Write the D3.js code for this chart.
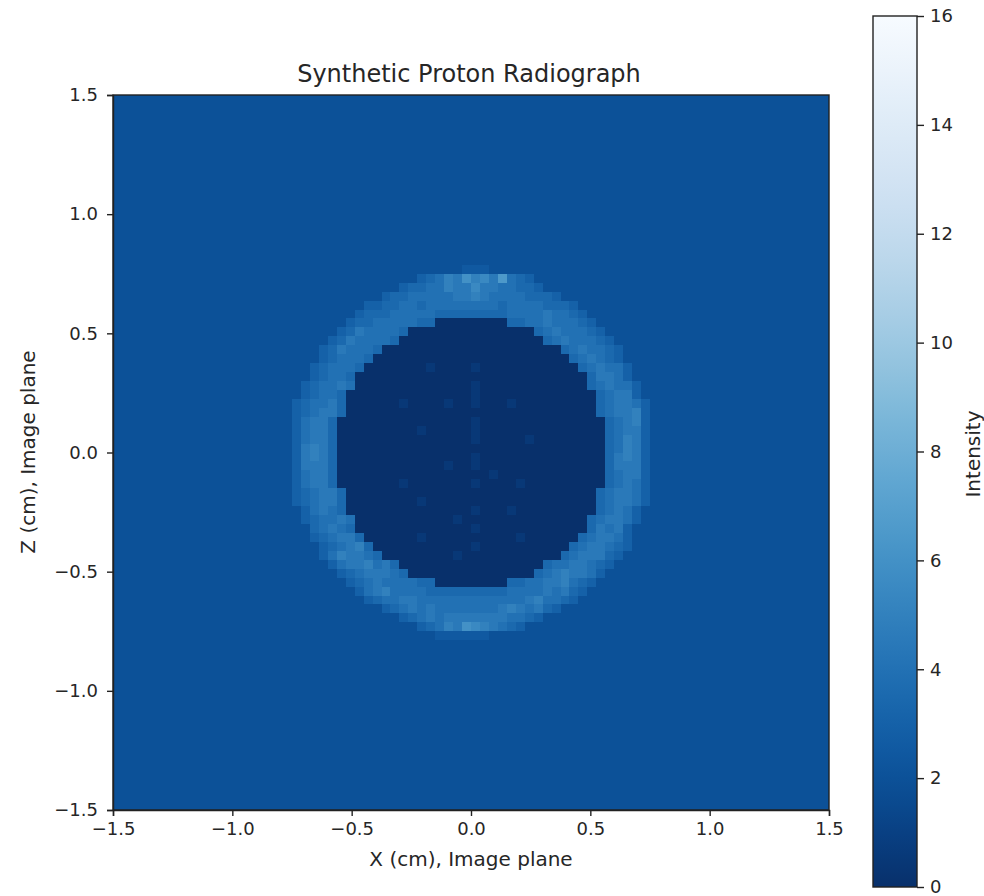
<!DOCTYPE html>
<html>

<head>
  <meta charset="utf-8">
  <style>
    body {
      margin: 0;
      background: #fff;
    }

    svg text {
      font-family: "DejaVu Sans", sans-serif;
      fill: #262626;
    }

    .tick text {
      font-size: 18px;
    }

    .tick line,
    .domain {
      stroke: #222;
      stroke-width: 1.4px;
    }
  </style>
</head>

<body>
  <div id="chart"></div>
  <script src="https://d3js.org/d3.v7.min.js"></script>
  <script>
    var xTicks = [-1.5, -1.0, -0.5, 0.0, 0.5, 1.0, 1.5];
    var zTicks = [-1.5, -1.0, -0.5, 0.0, 0.5, 1.0, 1.5];
    var barTicks = [0, 2, 4, 6, 8, 10, 12, 14, 16];

    // estimated mean intensity on a coarse 80x80 grid, top row first.
    // one base-36 character per cell, in half units of intensity
    var intensityRows = [
      "4444444444 4444444444 4444444444 4444444444 4444444444 4444444444 4444444444 4444444444",
      "4444444444 4444444444 4444444444 4444444444 4444444444 4444444444 4444444444 4444444444",
      "4444444444 4444444444 4444444444 4444444444 4444444444 4444444444 4444444444 4444444444",
      "4444444444 4444444444 4444444444 4444444444 4444444444 4444444444 4444444444 4444444444",
      "4444444444 4444444444 4444444444 4444444444 4444444444 4444444444 4444444444 4444444444",
      "4444444444 4444444444 4444444444 4444444444 4444444444 4444444444 4444444444 4444444444",
      "4444444444 4444444444 4444444444 4444444444 4444444444 4444444444 4444444444 4444444444",
      "4444444444 4444444444 4444444444 4444444444 4444444444 4444444444 4444444444 4444444444",
      "4444444444 4444444444 4444444444 4444444444 4444444444 4444444444 4444444444 4444444444",
      "4444444444 4444444444 4444444444 4444444444 4444444444 4444444444 4444444444 4444444444",
      "4444444444 4444444444 4444444444 4444444444 4444444444 4444444444 4444444444 4444444444",
      "4444444444 4444444444 4444444444 4444444444 4444444444 4444444444 4444444444 4444444444",
      "4444444444 4444444444 4444444444 4444444444 4444444444 4444444444 4444444444 4444444444",
      "4444444444 4444444444 4444444444 4444444444 4444444444 4444444444 4444444444 4444444444",
      "4444444444 4444444444 4444444444 4444444444 4444444444 4444444444 4444444444 4444444444",
      "4444444444 4444444444 4444444444 4444444444 4444444444 4444444444 4444444444 4444444444",
      "4444444444 4444444444 4444444444 4444444444 4444444444 4444444444 4444444444 4444444444",
      "4444444444 4444444444 4444444444 4444444444 4444444444 4444444444 4444444444 4444444444",
      "4444444444 4444444444 4444444444 4444444444 4444444444 4444444444 4444444444 4444444444",
      "4444444444 4444444444 4444444444 4444444445 5544444444 4444444444 4444444444 4444444444",
      "4444444444 4444444444 4444444444 4444678a9c ab9d876444 4444444444 4444444444 4444444444",
      "4444444444 4444444444 4444444444 4467788a99 b998877644 4444444444 4444444444 4444444444",
      "4444444444 4444444444 4444444444 6778888899 a988887776 4444444444 4444444444 4444444444",
      "4444444444 4444444444 4444444466 7788788888 8887888877 7644444444 4444444444 4444444444",
      "4444444444 4444444444 4444444677 7888887777 7777888898 8764444444 4444444444 4444444444",
      "4444444444 4444444444 4444446778 8888770000 0000778898 8876444444 4444444444 4444444444",
      "4444444444 4444444444 4444467988 8870000000 0000000789 8887644444 4444444444 4444444444",
      "4444444444 4444444444 4444679888 8700000000 0000000078 9888764444 4444444444 4444444444",
      "4444444444 4444444444 4446798887 0000000000 0000000000 7898876444 4444444444 4444444444",
      "4444444444 4444444444 4446788870 0000000000 0000000000 0789876444 4444444444 4444444444",
      "4444444444 4444444444 4467888700 0000010000 1000000000 0078988644 4444444444 4444444444",
      "4444444444 4444444444 4467887000 0000000000 0000000000 0007998644 4444444444 4444444444",
      "4444444444 4444444444 4678898000 0000000000 1000000000 0007898864 4444444444 4444444444",
      "4444444444 4444444444 4678870000 0000000000 1000000000 0000789964 4444444444 4444444444",
      "4444444444 4444444444 6788970000 0010000100 1000100000 0000789986 4444444444 4444444444",
      "4444444444 4444444444 6789970000 0000000000 0000000000 00007899a6 4444444444 4444444444",
      "4444444444 4444444444 6899700000 0000000000 1000000000 00000789a6 4444444444 4444444444",
      "4444444444 4444444444 6899700000 0000100000 1000000000 0000078996 4444444444 4444444444",
      "4444444444 4444444444 6899700000 0000000000 1000001000 0000078a96 4444444444 4444444444",
      "4444444444 4444444444 69a9700000 0000000000 0000000000 0000078a96 4444444444 4444444444",
      "4444444444 4444444444 69a9700000 0000000000 1000000000 0000079a96 4444444444 4444444444",
      "4444444444 4444444444 6999700000 0000000100 1000000000 0000079996 4444444444 4444444444",
      "4444444444 4444444444 6899700000 0000000000 0010000000 0000078996 4444444444 4444444444",
      "4444444444 4444444444 6899700000 0010000000 1000010000 0000078986 4444444444 4444444444",
      "4444444444 4444444444 6789970000 0000000000 0000000000 0000789986 4444444444 4444444444",
      "4444444444 4444444444 6789970000 0000100000 0000000000 0000789986 4444444444 4444444444",
      "4444444444 4444444444 4689870000 0000000000 1000100000 0000789864 4444444444 4444444444",
      "4444444444 4444444444 4678898000 0000000010 0000000000 0007899864 4444444444 4444444444",
      "4444444444 4444444444 4478987000 0000000000 1000000000 0007989644 4444444444 4444444444",
      "4444444444 4444444444 4467899700 0000100000 0000010000 0078998644 4444444444 4444444444",
      "4444444444 4444444444 4446789a70 0000000000 1000000000 0789987644 4444444444 4444444444",
      "4444444444 4444444444 44468a9987 0000000010 0000000000 7899976444 4444444444 4444444444",
      "4444444444 4444444444 44446899a8 9700000000 0000000078 8998764444 4444444444 4444444444",
      "4444444444 4444444444 4444467899 9870000000 0000000789 a998644444 4444444444 4444444444",
      "4444444444 4444444444 4444446789 8888770000 0000778899 a876444444 4444444444 4444444444",
      "4444444444 4444444444 4444444689 a888877777 7777888898 9764444444 4444444444 4444444444",
      "4444444444 4444444444 4444444467 8899888888 8888889a88 7644444444 4444444444 4444444444",
      "4444444444 4444444444 4444444444 6789898888 8889a98976 4444444444 4444444444 4444444444",
      "4444444444 4444444444 4444444444 4467898999 9999887644 4444444444 4444444444 4444444444",
      "4444444444 4444444444 4444444444 4444678a9c ba98764444 4444444444 4444444444 4444444444",
      "4444444444 4444444444 4444444444 4444445555 5544444444 4444444444 4444444444 4444444444",
      "4444444444 4444444444 4444444444 4444444444 4444444444 4444444444 4444444444 4444444444",
      "4444444444 4444444444 4444444444 4444444444 4444444444 4444444444 4444444444 4444444444",
      "4444444444 4444444444 4444444444 4444444444 4444444444 4444444444 4444444444 4444444444",
      "4444444444 4444444444 4444444444 4444444444 4444444444 4444444444 4444444444 4444444444",
      "4444444444 4444444444 4444444444 4444444444 4444444444 4444444444 4444444444 4444444444",
      "4444444444 4444444444 4444444444 4444444444 4444444444 4444444444 4444444444 4444444444",
      "4444444444 4444444444 4444444444 4444444444 4444444444 4444444444 4444444444 4444444444",
      "4444444444 4444444444 4444444444 4444444444 4444444444 4444444444 4444444444 4444444444",
      "4444444444 4444444444 4444444444 4444444444 4444444444 4444444444 4444444444 4444444444",
      "4444444444 4444444444 4444444444 4444444444 4444444444 4444444444 4444444444 4444444444",
      "4444444444 4444444444 4444444444 4444444444 4444444444 4444444444 4444444444 4444444444",
      "4444444444 4444444444 4444444444 4444444444 4444444444 4444444444 4444444444 4444444444",
      "4444444444 4444444444 4444444444 4444444444 4444444444 4444444444 4444444444 4444444444",
      "4444444444 4444444444 4444444444 4444444444 4444444444 4444444444 4444444444 4444444444",
      "4444444444 4444444444 4444444444 4444444444 4444444444 4444444444 4444444444 4444444444",
      "4444444444 4444444444 4444444444 4444444444 4444444444 4444444444 4444444444 4444444444",
      "4444444444 4444444444 4444444444 4444444444 4444444444 4444444444 4444444444 4444444444",
      "4444444444 4444444444 4444444444 4444444444 4444444444 4444444444 4444444444 4444444444",
      "4444444444 4444444444 4444444444 4444444444 4444444444 4444444444 4444444444 4444444444"
    ].map(function(row) { return row.replace(/ /g, ""); });

    var width = 984,
      height = 896;
    var plot = { left: 113, right: 829, top: 95, bottom: 810 };
    var bar = { left: 873, right: 917, top: 16, bottom: 887 };

    var svg = d3.select("#chart").append("svg")
      .attr("width", width)
      .attr("height", height)
      .style("display", "block");

    var x = d3.scaleLinear().domain([-1.5, 1.5]).range([plot.left, plot.right]);
    var z = d3.scaleLinear().domain([-1.5, 1.5]).range([plot.bottom, plot.top]);
    var cols = d3.scaleBand().domain(d3.range(80)).range([plot.left, plot.right]);
    var rows = d3.scaleBand().domain(d3.range(80)).range([plot.top, plot.bottom]);
    var color = d3.scaleSequential(function(t) { return d3.interpolateBlues(1 - t); })
      .domain([0, 16]);

    var cells = [];
    intensityRows.forEach(function(row, i) {
      row.split("").forEach(function(c, j) {
        cells.push({ i: i, j: j, value: parseInt(c, 36) / 2 });
      });
    });

    svg.append("g")
      .attr("shape-rendering", "crispEdges")
      .selectAll("rect")
      .data(cells)
      .enter().append("rect")
      .attr("x", function(d) { return cols(d.j); })
      .attr("y", function(d) { return rows(d.i); })
      .attr("width", cols.bandwidth())
      .attr("height", rows.bandwidth())
      .attr("fill", function(d) { return color(d.value); });

    var fmt = d3.format(".1f");

    svg.append("g")
      .attr("transform", "translate(0," + plot.bottom + ")")
      .call(d3.axisBottom(x).tickValues(xTicks).tickFormat(fmt).tickSize(6).tickPadding(6));

    svg.append("g")
      .attr("transform", "translate(" + plot.left + ",0)")
      .call(d3.axisLeft(z).tickValues(zTicks).tickFormat(fmt).tickSize(6).tickPadding(9));

    svg.append("rect")
      .attr("x", plot.left)
      .attr("y", plot.top)
      .attr("width", plot.right - plot.left)
      .attr("height", plot.bottom - plot.top)
      .attr("fill", "none")
      .attr("stroke", "#222")
      .attr("stroke-width", 1.4);

    // colorbar
    var barScale = d3.scaleLinear().domain([0, 16]).range([bar.bottom, bar.top]);
    var defs = svg.append("defs");
    var grad = defs.append("linearGradient")
      .attr("id", "barFill")
      .attr("x1", 0).attr("y1", 1).attr("x2", 0).attr("y2", 0);
    grad.selectAll("stop")
      .data(d3.range(0, 16.5, 0.5))
      .enter().append("stop")
      .attr("offset", function(d) { return d / 16; })
      .attr("stop-color", function(d) { return color(d); });

    svg.append("rect")
      .attr("x", bar.left)
      .attr("y", bar.top)
      .attr("width", bar.right - bar.left)
      .attr("height", bar.bottom - bar.top)
      .attr("fill", "url(#barFill)")
      .attr("stroke", "#222")
      .attr("stroke-width", 1.4);

    svg.append("g")
      .attr("transform", "translate(" + bar.right + ",0)")
      .call(d3.axisRight(barScale).tickValues(barTicks).tickSize(7).tickPadding(6))
      .select(".domain").remove();

    svg.append("text")
      .attr("x", 469)
      .attr("y", 82)
      .attr("text-anchor", "middle")
      .style("font-size", "24px")
      .text("Synthetic Proton Radiograph");

    svg.append("text")
      .attr("x", 471)
      .attr("y", 866)
      .attr("text-anchor", "middle")
      .style("font-size", "20px")
      .text("X (cm), Image plane");

    svg.append("text")
      .attr("transform", "translate(35,452) rotate(-90)")
      .attr("text-anchor", "middle")
      .style("font-size", "20px")
      .text("Z (cm), Image plane");

    svg.append("text")
      .attr("transform", "translate(980,454) rotate(-90)")
      .attr("text-anchor", "middle")
      .style("font-size", "20px")
      .text("Intensity");
  </script>
</body>

</html>
